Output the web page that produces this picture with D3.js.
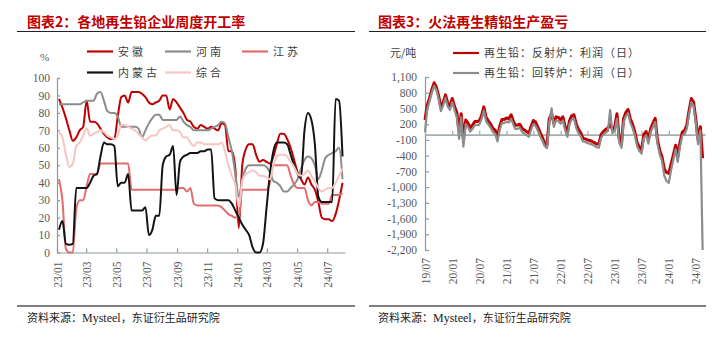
<!DOCTYPE html>
<html><head><meta charset="utf-8">
<script src="https://cdn.jsdelivr.net/npm/d3@7"></script>
<style>body{margin:0;background:#fff}svg{display:block}</style>
</head><body>
<svg id="c" width="726" height="337"></svg>
<script>
// ---------- Left chart data (weekly, from 2023-01-05) ----------
const leftStart = "2023-01-05";
const anhui = [88,83,77,70,64,66,70,72,87,75,75,74,71,68,66,65,65,78,89,90,86,92,92,92,91,89,86,85,86,87,90,90,82,88,86,83,80,76,75,72,71,73,72,71,72,71,70,74,73,58,58,48,14,50,59,62,62,56,52,53,52,51,55,62,68,68,65,60,53,46,42,39,43,39,36,29,20,19,19,18,22,30,40];
const henan = [85,85,85,85,85,85,85,86,87,87,87,91,92,87,81,80,80,78,72,72,72,72,72,71,66,70,74,77,79,79,76,76,76,76,76,78,75,73,72,70,70,70,70,70,71,72,73,75,74,66,58,45,32,42,48,50,50,50,50,50,49,46,41,40,38,35,35,37,39,42,48,53,55,54,50,42,47,54,56,57,58,60,42];
const jiangsu = [42,30,2,0,0,25,30,30,38,45,45,45,51,51,51,51,51,51,51,51,51,36,36,36,36,36,36,36,36,36,36,36,36,36,36,37,37,35,37,28,27,27,27,27,27,27,27,26,24,22,21,20,20,36,36,36,36,36,36,36,36,40,50,50,50,50,50,44,39,37,37,37,30,27,29,29,28,28,28,33,33,33,34];
const neimenggu = [13,18,5,4.5,5,37,37,37,37,40,44,45,55,63,62,62,61,38,40,40,45,24,24,24,24,26,10,13,21,21,50,55,56,61,33,52,55,56,57,57,57,58,58,59,59,31,30,30,30,30,28,24,20,16,13,10,3,0,0,5,25,45,58,63,63,63,62,56,50,45,43,70,80,76,62,32,29,29,29,29,88,87,55];
const zonghe = [69,66,56,49,51,61,63,67,71,67,68,69,70,69,67,66,65,67,73,73,72,71,70,68,66,64,66,67,67,70,71,72,73,70,70,69,66,66,63,61,63,63,62,62,62,62,62,63,58,50,44,39,26,41,45,46,47,46,44,44,43,42,50,55,56,56,55,52,49,45,44,45,47,44,41,37,35,36,37,37,40,44,48];
const leftNames = ["安徽","河南","江苏","内蒙古","综合"];
const leftColors = ["#C00000","#8C8C8C","#E46C6C","#141414","#F5C6C3"];
const leftTicksY = [0,10,20,30,40,50,60,70,80,90,100];

// ---------- Right chart data (semi-monthly, from 2019-07-01) ----------
const rightStart = "2019-07-01";
const reverb = [280,560,700,860,990,900,740,520,620,760,610,540,690,540,420,60,400,-80,280,220,130,180,250,250,260,360,530,330,260,200,120,90,-40,160,290,290,320,300,380,260,180,180,200,120,90,60,30,160,270,240,140,40,-60,-170,-200,300,400,220,340,330,280,340,150,30,260,360,380,200,100,40,-70,-80,-100,-110,-130,-150,-180,-180,0,60,100,130,200,100,150,400,-100,-180,300,420,480,300,200,60,-150,-240,-290,0,60,-100,120,220,310,-100,-300,-420,-650,-720,-740,-560,-380,-200,-420,-150,50,80,180,450,690,620,300,-100,150,-450];
const rotary = [50,480,640,800,930,850,680,450,560,700,540,470,620,470,330,-80,330,-230,200,150,60,110,180,180,190,290,460,260,190,130,50,20,-130,90,220,220,250,230,300,190,110,110,130,50,20,-10,-40,90,200,170,70,-30,-120,-220,-260,220,500,150,270,260,210,270,80,-40,190,290,310,130,30,-30,-130,-140,-160,-170,-190,-210,-240,-250,-60,0,40,70,470,30,80,300,-160,-250,230,350,410,230,130,-10,-220,-310,-360,-70,-10,-170,50,150,240,-170,-380,-500,-780,-880,-920,-680,-470,-280,-520,-230,-20,10,110,380,620,550,230,-180,80,-2200];
const rightNames = ["再生铅：反射炉：利润（日）","再生铅：回转炉：利润（日）"];
const rightColors = ["#C00000","#8C8C8C"];
const rightTicksY = [-2200,-1900,-1600,-1300,-1000,-700,-400,-100,200,500,800,1100];

// ---------- drawing ----------
const svg = d3.select("#c");
const serif = "'Liberation Serif','Times New Roman',serif";
const cjk = "'Noto Sans CJK SC','Noto Sans',sans-serif";
const axisCol = "#8E9898";
const txtCol = "#595959";
const parse = d3.timeParse("%Y-%m-%d");

function frame(x0, x1, tx, title){
  svg.append("text").attr("x",tx).attr("y",26.5).attr("fill","#C00000")
    .attr("font-family",cjk).attr("font-weight",700).attr("font-size",14).text(title);
  svg.append("line").attr("x1",x0).attr("x2",x1).attr("y1",31.5).attr("y2",31.5)
    .attr("stroke","#222").attr("stroke-width",1.2);
  svg.append("line").attr("x1",x0).attr("x2",x1).attr("y1",306).attr("y2",306)
    .attr("stroke","#555").attr("stroke-width",1.6);
  const s = svg.append("text").attr("x",tx).attr("y",322).attr("fill","#222")
    .attr("font-family",cjk).attr("font-size",11);
  s.append("tspan").text("资料来源：");
  s.append("tspan").attr("font-family",serif).attr("font-size",12).text("Mysteel");
  s.append("tspan").text("，东证衍生品研究院");
}
function legendItem(x, y, color, label, ls){
  svg.append("line").attr("x1",x).attr("x2",x+26).attr("y1",y).attr("y2",y)
    .attr("stroke",color).attr("stroke-width",2.2);
  svg.append("text").attr("x",x+31).attr("y",y+4).attr("fill","#404040")
    .attr("font-family",cjk).attr("font-size",11).attr("letter-spacing",ls).text(label);
}
function styleAxis(g){
  g.selectAll("path,line").attr("stroke",axisCol).attr("stroke-width",1.2);
  g.selectAll("text").attr("fill",txtCol).attr("font-family",serif).attr("font-size",11.5);
}

// ===== Left =====
frame(17, 355, 27, "图表2：各地再生铅企业周度开工率");
const d0 = parse(leftStart);
const leftDates = anhui.map((_, i) => d3.timeDay.offset(d0, i*7));
const xL = d3.scaleTime().domain([new Date(2023,0,1), new Date(2024,7,6)]).range([57,345]);
const yL = d3.scaleLinear().domain([0,100]).range([252.5,78]);

const gyL = svg.append("g").attr("transform","translate(57,0)")
  .call(d3.axisLeft(yL).tickValues(leftTicksY).tickSizeInner(-3).tickSizeOuter(0).tickPadding(7));
styleAxis(gyL);
const gxL = svg.append("g").attr("transform","translate(0,252.5)")
  .call(d3.axisBottom(xL).ticks(d3.timeMonth.every(2)).tickFormat(d3.timeFormat("%y/%m")).tickSizeInner(-4).tickSizeOuter(0));
gxL.selectAll("text").attr("transform","rotate(-90)").attr("x",-9).attr("y",0).attr("dy","0.35em").style("text-anchor","end");
styleAxis(gxL);
svg.append("text").attr("x",40).attr("y",61).attr("fill",txtCol).attr("font-family",serif).attr("font-size",11).text("%");

const leftSeries = [anhui, henan, jiangsu, neimenggu, zonghe];
const lineL = d3.line().x((d,i)=>xL(leftDates[i])).y(d=>yL(d)).curve(d3.curveMonotoneX);
leftSeries.forEach((s, j) => {
  svg.append("path").datum(s).attr("d", lineL).attr("fill","none")
    .attr("stroke", leftColors[j]).attr("stroke-width", 2).attr("stroke-linejoin","round");
});
legendItem(87, 51.5, leftColors[0], leftNames[0], 3);
legendItem(165, 51.5, leftColors[1], leftNames[1], 3);
legendItem(242, 51.5, leftColors[2], leftNames[2], 3);
legendItem(87, 72.5, leftColors[3], leftNames[3], 3);
legendItem(165, 72.5, leftColors[4], leftNames[4], 3);

// ===== Right =====
frame(369, 706, 378, "图表3：火法再生精铅生产盈亏");
const r0 = parse(rightStart);
const rightDates = reverb.map((_, k) => d3.timeDay.offset(d3.timeMonth.offset(r0, Math.floor(k/2)), (k%2)*15));
const xR = d3.scaleTime().domain([new Date(2019,6,1), new Date(2024,8,1)]).range([425,705]);
const yR = d3.scaleLinear().domain([-2200,1100]).range([250,77]);
const fmt = d => d3.format(",")(d).replace("−","-");

const gyR = svg.append("g").attr("transform","translate(425,0)")
  .call(d3.axisLeft(yR).tickValues(rightTicksY).tickFormat(fmt).tickSizeInner(-4).tickSizeOuter(0).tickPadding(8));
styleAxis(gyR);
const gz = svg.append("g").attr("transform",`translate(0,${yR(0)})`)
  .call(d3.axisBottom(xR).ticks(d3.timeMonth.every(6)).tickFormat("").tickSizeInner(-4).tickSizeOuter(0));
gz.selectAll("path,line").attr("stroke","#A4AEAC").attr("stroke-width",1.2);
gz.select("path").attr("stroke-width",1.8);
const gxR = svg.append("g").attr("transform","translate(0,250)")
  .call(d3.axisBottom(xR).ticks(d3.timeMonth.every(6)).tickFormat(d3.timeFormat("%y/%m")).tickSize(0));
gxR.select(".domain").remove();
gxR.selectAll("text").attr("transform","rotate(-90)").attr("x",-8).attr("y",0).attr("dy","0.35em").style("text-anchor","end");
styleAxis(gxR);
svg.append("text").attr("x",390).attr("y",57).attr("fill","#404040").attr("font-family",cjk).attr("font-size",11).text("元/吨");

const lineR = d3.line().x((d,k)=>xR(rightDates[k])).y(d=>yR(d));
svg.append("path").datum(reverb).attr("d", lineR).attr("fill","none")
  .attr("stroke", rightColors[0]).attr("stroke-width", 3).attr("stroke-linejoin","round");
svg.append("path").datum(rotary).attr("d", lineR).attr("fill","none")
  .attr("stroke", rightColors[1]).attr("stroke-width", 2.2).attr("stroke-linejoin","round");
legendItem(453, 53, rightColors[0], rightNames[0], 1);
legendItem(453, 73, rightColors[1], rightNames[1], 1);
</script>
</body></html>
